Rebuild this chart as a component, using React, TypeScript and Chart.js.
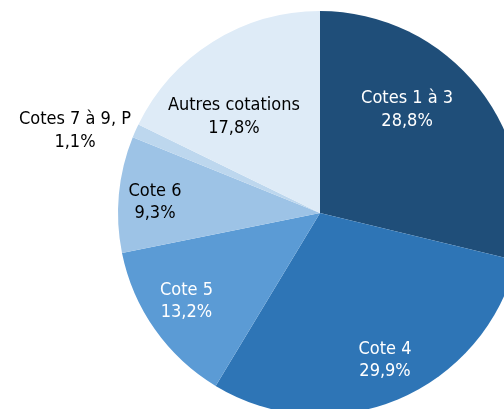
import React, { useEffect, useRef } from "react";
import { Chart, registerables } from "chart.js";

Chart.register(...registerables);

const categories = ["Cotes 1 à 3", "Cote 4", "Cote 5", "Cote 6", "Cotes 7 à 9, P", "Autres cotations"];
const values = [28.8, 29.9, 13.2, 9.3, 1.1, 17.8];
const valueLabels = ["28,8%", "29,9%", "13,2%", "9,3%", "1,1%", "17,8%"];
const colors = ["#1F4E79", "#2E75B6", "#5B9BD5", "#9DC3E6", "#BDD7EE", "#DEEBF7"];
const labelColors = ["#FFFFFF", "#FFFFFF", "#FFFFFF", "#000000", "#000000", "#000000"];
// label block centre offsets, in units of the pie radius, from the pie centre
const labelOffsets: [number, number][] = [
  [0.431, -0.51],
  [0.322, 0.73],
  [-0.661, 0.438],
  [-0.817, -0.054],
  [-1.213, -0.406],
  [-0.426, -0.475],
];

const FONT = '18px "DejaVu Sans Condensed", "DejaVu Sans", sans-serif';
const LINE_GAP = 22.5;

const labelPlugin = {
  id: "sliceLabels",
  afterDatasetsDraw(chart: any) {
    const ctx = chart.ctx;
    const meta = chart.getDatasetMeta(0);
    ctx.save();
    ctx.font = FONT;
    ctx.textAlign = "center";
    ctx.textBaseline = "middle";
    meta.data.forEach((arc: any, i: number) => {
      const r = arc.outerRadius;
      const cx = arc.x + labelOffsets[i][0] * r;
      const cy = arc.y + labelOffsets[i][1] * r;
      ctx.fillStyle = labelColors[i];
      ctx.fillText(categories[i], cx, cy - LINE_GAP / 2);
      ctx.fillText(valueLabels[i], cx, cy + LINE_GAP / 2);
    });
    ctx.restore();
  },
};

export default function App() {
  const ref = useRef<HTMLCanvasElement>(null);
  useEffect(() => {
    if (!ref.current) return;
    const chart = new Chart(ref.current, {
      type: "pie",
      data: {
        labels: categories,
        datasets: [
          {
            data: values,
            backgroundColor: colors,
            borderWidth: 0,
          },
        ],
      },
      options: {
        animation: false,
        responsive: false,
        layout: { padding: { left: 118, right: 118, top: 11, bottom: 25 } },
        plugins: { legend: { display: false }, tooltip: { enabled: false } },
      },
      plugins: [labelPlugin],
    });
    return () => chart.destroy();
  }, []);
  return (
    <div
      style={{
        position: "fixed",
        left: 0,
        top: 0,
        width: 504,
        height: 409,
        overflow: "hidden",
        background: "#ffffff",
      }}
    >
      <canvas ref={ref} width={640} height={440} style={{ display: "block" }} />
    </div>
  );
}
